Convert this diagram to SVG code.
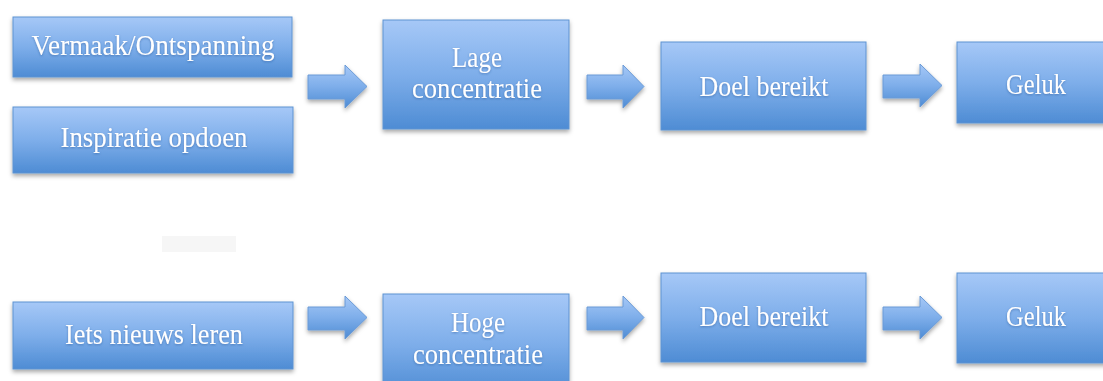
<svg xmlns="http://www.w3.org/2000/svg" width="1103" height="381" viewBox="0 0 1103 381">
<defs>
<linearGradient id="g" x1="0" y1="0" x2="0" y2="1">
<stop offset="0" stop-color="#a6c8f7"/>
<stop offset="0.5" stop-color="#7eaeea"/>
<stop offset="1" stop-color="#4e8cd4"/>
</linearGradient>
<filter id="sh" x="-10%" y="-20%" width="120%" height="150%">
<feDropShadow dx="0" dy="2.5" stdDeviation="2" flood-color="#000" flood-opacity="0.35"/>
</filter>
<filter id="ts" x="-10%" y="-30%" width="120%" height="160%">
<feDropShadow dx="0" dy="1" stdDeviation="0.8" flood-color="#1d4f8f" flood-opacity="0.5"/>
</filter>
</defs>
<style>
.box{fill:url(#g);stroke:#5f93d2;stroke-width:1;filter:url(#sh)}
.arr{fill:url(#g);stroke:#6a9ad6;stroke-width:1;filter:url(#sh)}
.t{font-family:"Liberation Serif","DejaVu Serif",serif;font-size:29px;fill:#ffffff;text-anchor:middle;filter:url(#ts)}
</style>
<rect width="1103" height="381" fill="#ffffff"/>
<rect x="162" y="236" width="74" height="16" fill="#f6f6f6"/>
<g id="connectors">
<path class="arr" d="M308,75 H345 V65 L367,86.5 L345,108 V99 H308 Z"/>
<path class="arr" d="M587,75 H623 V65 L644,86.5 L623,108 V99 H587 Z"/>
<path class="arr" d="M883,75 H920 V64 L942,85.5 L920,107 V98 H883 Z"/>
<path class="arr" d="M308,307 H345 V296 L367,317.5 L345,339 V330 H308 Z"/>
<path class="arr" d="M587,307 H623 V296 L644,317.5 L623,339 V330 H587 Z"/>
<path class="arr" d="M883,307 H920 V296 L942,317.5 L920,339 V330 H883 Z"/>
</g>
<g id="n-vermaak">
<rect class="box" x="13" y="17" width="279" height="60"/>
<text class="t" x="153" y="55" textLength="243" lengthAdjust="spacingAndGlyphs">Vermaak/Ontspanning</text>
</g>
<g id="n-inspiratie">
<rect class="box" x="13" y="107" width="280" height="66"/>
<text class="t" x="154" y="147" textLength="187" lengthAdjust="spacingAndGlyphs">Inspiratie opdoen</text>
</g>
<g id="n-lage">
<rect class="box" x="383" y="20" width="186" height="109"/>
<text class="t" x="477" y="67" textLength="50" lengthAdjust="spacingAndGlyphs">Lage</text>
<text class="t" x="477" y="98" textLength="130" lengthAdjust="spacingAndGlyphs">concentratie</text>
</g>
<g id="n-doel1">
<rect class="box" x="661" y="42" width="205" height="88"/>
<text class="t" x="764" y="96" textLength="129" lengthAdjust="spacingAndGlyphs">Doel bereikt</text>
</g>
<g id="n-geluk1">
<rect class="box" x="957" y="42" width="150" height="81"/>
<text class="t" x="1036" y="94" textLength="60" lengthAdjust="spacingAndGlyphs">Geluk</text>
</g>
<g id="n-iets">
<rect class="box" x="13" y="302" width="280" height="67"/>
<text class="t" x="154" y="344" textLength="178" lengthAdjust="spacingAndGlyphs">Iets nieuws leren</text>
</g>
<g id="n-hoge">
<rect class="box" x="383" y="294" width="186" height="100"/>
<text class="t" x="478" y="332" textLength="54" lengthAdjust="spacingAndGlyphs">Hoge</text>
<text class="t" x="478" y="364" textLength="130" lengthAdjust="spacingAndGlyphs">concentratie</text>
</g>
<g id="n-doel2">
<rect class="box" x="661" y="273" width="205" height="89"/>
<text class="t" x="764" y="326" textLength="129" lengthAdjust="spacingAndGlyphs">Doel bereikt</text>
</g>
<g id="n-geluk2">
<rect class="box" x="957" y="273" width="150" height="90"/>
<text class="t" x="1036" y="326" textLength="60" lengthAdjust="spacingAndGlyphs">Geluk</text>
</g>
</svg>
